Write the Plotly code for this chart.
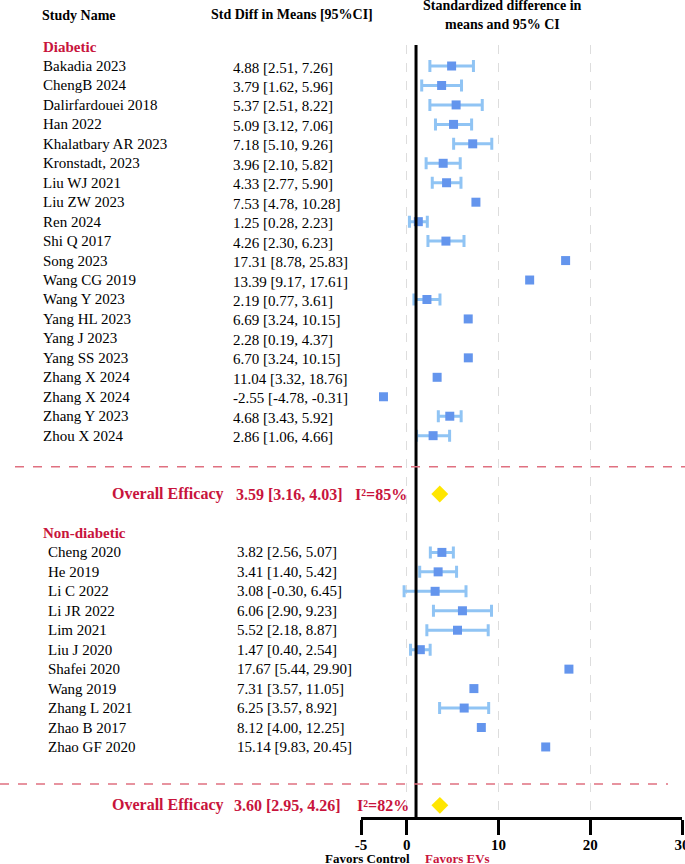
import plotly.graph_objects as go

# ---- data ----
dia_names = ["Bakadia 2023", "ChengB 2024", "Dalirfardouei 2018", "Han 2022",
             "Khalatbary AR 2023", "Kronstadt, 2023", "Liu WJ 2021", "Liu ZW 2023",
             "Ren 2024", "Shi Q 2017", "Song 2023", "Wang CG 2019", "Wang Y 2023",
             "Yang HL 2023", "Yang J 2023", "Yang SS 2023", "Zhang X 2024",
             "Zhang X 2024", "Zhang Y 2023", "Zhou X 2024"]
dia_smd = [4.88, 3.79, 5.37, 5.09, 7.18, 3.96, 4.33, 7.53, 1.25, 4.26, 17.31,
           13.39, 2.19, 6.69, 2.28, 6.70, 11.04, -2.55, 4.68, 2.86]
dia_lo = [2.51, 1.62, 2.51, 3.12, 5.10, 2.10, 2.77, 4.78, 0.28, 2.30, 8.78,
          9.17, 0.77, 3.24, 0.19, 3.24, 3.32, -4.78, 3.43, 1.06]
dia_hi = [7.26, 5.96, 8.22, 7.06, 9.26, 5.82, 5.90, 10.28, 2.23, 6.23, 25.83,
          17.61, 3.61, 10.15, 4.37, 10.15, 18.76, -0.31, 5.92, 4.66]
# where the squares actually sit in the picture (None = not drawn)
dia_marker = [4.88, 3.79, 5.37, 5.09, 7.18, 3.96, 4.33, 7.53, 1.25, 4.26, 17.31,
              13.39, 2.19, 6.69, None, 6.70, 3.30, -2.55, 4.68, 2.86]
dia_bar = [1, 1, 1, 1, 1, 1, 1, 0, 1, 1, 0, 0, 1, 0, 0, 0, 0, 0, 1, 1]

non_names = ["Cheng 2020", "He 2019", "Li C 2022", "Li JR 2022", "Lim 2021",
             "Liu J 2020", "Shafei 2020", "Wang 2019", "Zhang L 2021",
             "Zhao B 2017", "Zhao GF 2020"]
non_smd = [3.82, 3.41, 3.08, 6.06, 5.52, 1.47, 17.67, 7.31, 6.25, 8.12, 15.14]
non_lo = [2.56, 1.40, -0.30, 2.90, 2.18, 0.40, 5.44, 3.57, 3.57, 4.00, 9.83]
non_hi = [5.07, 5.42, 6.45, 9.23, 8.87, 2.54, 29.90, 11.05, 8.92, 12.25, 20.45]
non_marker = non_smd
non_bar = [1, 1, 1, 1, 1, 1, 0, 0, 1, 0, 0]

overall_est = [3.59, 3.60]
overall_lo = [3.16, 2.95]
overall_hi = [4.03, 4.26]
overall_i2 = ["85%", "82%"]

x_ticks = [-5, 0, 10, 20, 30]

# ---- layout constants ----
FONT = "Liberation Serif"
RED = "#C8143C"
W, H = 685, 864
dia_rows = [1 + i for i in range(len(dia_names))]
non_rows = [26 + i for i in range(len(non_names))]
overall_rows = [23, 39]
sep_rows = [21.6, 37.9]


def px(xpix):
    return xpix / W


def py(ypix):
    return (H - ypix) / H


fig = go.Figure()


def add_studies(marker, smd, lo, hi, bar, rows):
    for show in (1, 0):
        xs, ys, ep, em = [], [], [], []
        for m, s, l, h, b, r in zip(marker, smd, lo, hi, bar, rows):
            if m is None or b != show:
                continue
            xs.append(m)
            ys.append(r)
            ep.append(h - s)
            em.append(s - l)
        err = None
        if show:
            err = dict(type="data", symmetric=False, array=ep, arrayminus=em,
                       color="#90C4F4", thickness=3, width=6)
        fig.add_trace(go.Scatter(
            x=xs, y=ys, mode="markers",
            marker=dict(symbol="square", size=9, color="#6495ED"),
            error_x=err, showlegend=False, hoverinfo="skip"))


add_studies(dia_marker, dia_smd, dia_lo, dia_hi, dia_bar, dia_rows)
add_studies(non_marker, non_smd, non_lo, non_hi, non_bar, non_rows)

# pooled estimates
fig.add_trace(go.Scatter(
    x=overall_est, y=overall_rows, mode="markers",
    marker=dict(symbol="diamond", size=13, color="#FFE600"),
    showlegend=False, hoverinfo="skip"))

ann = []


def text(x, y, s, size=15, color="black", xanchor="left", yref="y", bold=False):
    if bold:
        s = "<b>%s</b>" % s
    ann.append(dict(x=x, y=y, xref="paper", yref=yref, text=s, showarrow=False,
                    xanchor=xanchor, yanchor="middle",
                    font=dict(family=FONT, size=size, color=color)))


# column headers
text(px(40), py(15), "Study Name", size=14, yref="paper", bold=True)
text(px(292), py(14), "Std Diff in Means [95%CI]", size=14, xanchor="center",
     yref="paper", bold=True)
text(px(502), py(6), "Standardized difference in", size=14, xanchor="center",
     yref="paper", bold=True)
text(px(502), py(24), "means and 95% CI", size=14, xanchor="center",
     yref="paper", bold=True)

# section headers
text(px(41), 0, "Diabetic", color=RED, bold=True)
text(px(41), 25, "Non-diabetic", color=RED, bold=True)

for n, s, l, h, r in zip(dia_names, dia_smd, dia_lo, dia_hi, dia_rows):
    text(px(41), r, n)
    text(px(231), r + 0.08, "%.2f [%.2f, %.2f]" % (s, l, h))
for n, s, l, h, r in zip(non_names, non_smd, non_lo, non_hi, non_rows):
    text(px(46), r, n)
    text(px(235), r, "%.2f [%.2f, %.2f]" % (s, l, h))

for k, r in enumerate(overall_rows):
    text(px(110), r, "Overall Efficacy", size=16, color=RED, bold=True)
    text(px(234 - 2 * k), r, "%.2f [%.2f, %.2f]" % (overall_est[k], overall_lo[k], overall_hi[k]),
         size=16, color=RED, bold=True)
    text(px(353 + 2 * k), r, "I²=" + overall_i2[k], size=16, color=RED, bold=True)

# favours labels
text(px(367), py(858), "Favors Control", size=13, xanchor="center", yref="paper", bold=True)
text(px(457), py(858), "Favors EVs", size=13, color=RED, xanchor="center", yref="paper", bold=True)

shapes = [
    # null line
    dict(type="line", xref="x", yref="y domain", x0=1, x1=1, y0=0, y1=1,
         line=dict(color="black", width=3)),
    # section separators
    dict(type="line", xref="paper", yref="y", x0=px(15), x1=1, y0=sep_rows[0], y1=sep_rows[0],
         line=dict(color="#E07080", width=1.5, dash="dash")),
    dict(type="line", xref="paper", yref="y", x0=0, x1=px(668), y0=sep_rows[1], y1=sep_rows[1],
         line=dict(color="#E07080", width=1.5, dash="dash")),
]

fig.update_layout(
    width=W, height=H,
    margin=dict(l=0, r=0, t=0, b=0, autoexpand=False),
    paper_bgcolor="white", plot_bgcolor="white",
    showlegend=False,
    annotations=ann,
    shapes=shapes,
    xaxis=dict(
        domain=[px(361), px(682)], range=[-5, 30], automargin=False,
        tickvals=x_ticks, ticktext=[str(v) for v in x_ticks],
        showline=True, linecolor="black", linewidth=3,
        ticks="outside", ticklen=15, tickwidth=3, tickcolor="black",
        tickfont=dict(family=FONT, size=15, color="black", weight="bold"),
        ticklabelstandoff=-3, ticklabeloverflow="allow",
        showgrid=True, gridcolor="#dddddd", gridwidth=1, griddash="dash",
        zeroline=False, fixedrange=True,
    ),
    yaxis=dict(
        domain=[py(817), py(45)], range=[39.6, -0.08], automargin=False,
        showgrid=False, zeroline=False, showticklabels=False, showline=False,
        fixedrange=True,
    ),
)

# the page's default body margin would push the fixed-size figure off the window
fig.write_html("out.html", config={"displayModeBar": False},
               post_script="document.body.style.margin = '0px';")
